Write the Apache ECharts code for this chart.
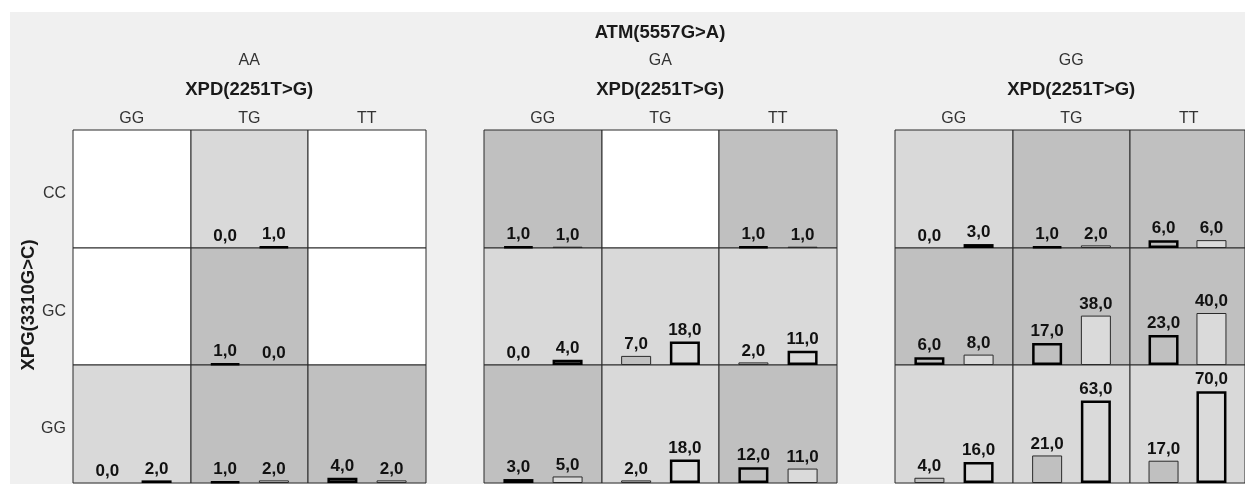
<!DOCTYPE html>
<html>
<head>
<meta charset="utf-8">
<script src="https://cdn.jsdelivr.net/npm/echarts@6/dist/echarts.min.js"></script>
<style>html,body{margin:0;padding:0;background:#fff;}#c{width:1245px;height:484px;}</style>
</head>
<body>
<div id="c"></div>
<script>
// ---- data ----
const mainTitle = 'ATM(5557G>A)';
const colTitle = 'XPD(2251T>G)';
const rowTitle = 'XPG(3310G>C)';
const atmGroups = ['AA', 'GA', 'GG'];
const xpdCats = ['GG', 'TG', 'TT'];
const xpgCats = ['CC', 'GC', 'GG'];
// values[row][col] = [bar1, bar2] (null = no cases)
const valuesAA = [
  [null, [0, 1], null],
  [null, [1, 0], null],
  [[0, 2], [1, 2], [4, 2]]
];
const valuesGA = [
  [[1, 1], null, [1, 1]],
  [[0, 4], [7, 18], [2, 11]],
  [[3, 5], [2, 18], [12, 11]]
];
const valuesGG = [
  [[0, 3], [1, 2], [6, 6]],
  [[6, 8], [17, 38], [23, 40]],
  [[4, 16], [21, 63], [17, 70]]
];
// emphasized bar index per cell (0 = first bar, 1 = second bar, -1 = empty cell)
const emphAA = [[-1, 1, -1], [-1, 0, -1], [1, 0, 0]];
const emphGA = [[0, -1, 0], [1, 1, 1], [0, 1, 0]];
const emphGG = [[1, 0, 0], [0, 0, 0], [1, 1, 1]];

const allValues = [valuesAA, valuesGA, valuesGG];
const allEmph = [emphAA, emphGA, emphGG];

// ---- layout / style ----
const panelX = [73, 484, 895];
const panelW = 352.5;
const topY = 130;
const rowH = 117.5;
const bgByEmph = { '-1': '#ffffff', '0': '#c0c0c0', '1': '#d9d9d9' };
const barFill = ['#c0c0c0', '#dadada'];
const FONT = '"Liberation Sans", Arial, sans-serif';

const grids = [], xAxes = [], yAxes = [], series = [];
let gi = 0;
for (let p = 0; p < 3; p++) {
  for (let r = 0; r < 3; r++) {
    for (let c = 0; c < 3; c++) {
      const x0 = Math.round(panelX[p] + c * panelW / 3);
      const x1 = Math.round(panelX[p] + (c + 1) * panelW / 3);
      const y0 = Math.round(topY + r * rowH);
      const y1 = Math.round(topY + (r + 1) * rowH);
      const emph = allEmph[p][r][c];
      grids.push({
        left: x0, top: y0, width: x1 - x0, height: y1 - y0,
        show: true, backgroundColor: bgByEmph[String(emph)],
        borderColor: '#2a2a2a', borderWidth: 1
      });
      xAxes.push({ type: 'value', gridIndex: gi, min: 0.3, max: 2.7, show: false });
      yAxes.push({ type: 'value', gridIndex: gi, min: 0, max: 90, show: false });
      const vals = allValues[p][r][c];
      if (vals) {
        series.push({
          type: 'bar', xAxisIndex: gi, yAxisIndex: gi, barWidth: 30,
          silent: true, animation: false,
          data: vals.map((v, k) => ({
            value: [k + 1, v],
            itemStyle: {
              color: barFill[k],
              borderColor: k === emph ? '#000' : '#2a2a2a',
              borderWidth: v === 0 ? 0 : (k === emph ? 2.5 : 1)
            }
          })),
          label: {
            show: true, position: 'top', distance: 3,
            fontFamily: FONT, fontWeight: 'bold', fontSize: 17, color: '#111',
            formatter: (prm) => prm.value[1].toFixed(1).replace('.', ',')
          }
        });
      }
      gi++;
    }
  }
}

const graphics = [
  { type: 'rect', shape: { x: 0, y: 0, width: 1245, height: 12 }, style: { fill: '#fff' }, silent: true },
  { type: 'rect', shape: { x: 0, y: 0, width: 10, height: 484 }, style: { fill: '#fff' }, silent: true },
  { type: 'text', style: { text: mainTitle, x: 660, y: 33, textAlign: 'center', textVerticalAlign: 'middle', font: 'bold 18.5px ' + FONT, fill: '#1a1a1a' } }
];
for (let p = 0; p < 3; p++) {
  const cx = panelX[p] + panelW / 2;
  graphics.push({ type: 'text', style: { text: atmGroups[p], x: cx, y: 61, textAlign: 'center', textVerticalAlign: 'middle', font: '16px ' + FONT, fill: '#333' } });
  graphics.push({ type: 'text', style: { text: colTitle, x: cx, y: 90, textAlign: 'center', textVerticalAlign: 'middle', font: 'bold 18.5px ' + FONT, fill: '#1a1a1a' } });
  for (let c = 0; c < 3; c++) {
    graphics.push({ type: 'text', style: { text: xpdCats[c], x: panelX[p] + (c + 0.5) * panelW / 3, y: 119, textAlign: 'center', textVerticalAlign: 'middle', font: '16px ' + FONT, fill: '#333' } });
  }
}
for (let r = 0; r < 3; r++) {
  graphics.push({ type: 'text', style: { text: xpgCats[r], x: 66, y: topY + (r + 0.5) * rowH + 5, textAlign: 'right', textVerticalAlign: 'middle', font: '16px ' + FONT, fill: '#333' } });
}
graphics.push({ type: 'text', x: 29, y: 305, rotation: Math.PI / 2, style: { text: rowTitle, x: 0, y: 0, textAlign: 'center', textVerticalAlign: 'middle', font: 'bold 18.5px ' + FONT, fill: '#1a1a1a' } });

const chart = echarts.init(document.getElementById('c'), null, { renderer: 'canvas' });
chart.setOption({
  backgroundColor: '#f0f0f0',
  animation: false,
  grid: grids,
  xAxis: xAxes,
  yAxis: yAxes,
  series: series,
  graphic: { elements: graphics }
});
</script>
</body>
</html>
